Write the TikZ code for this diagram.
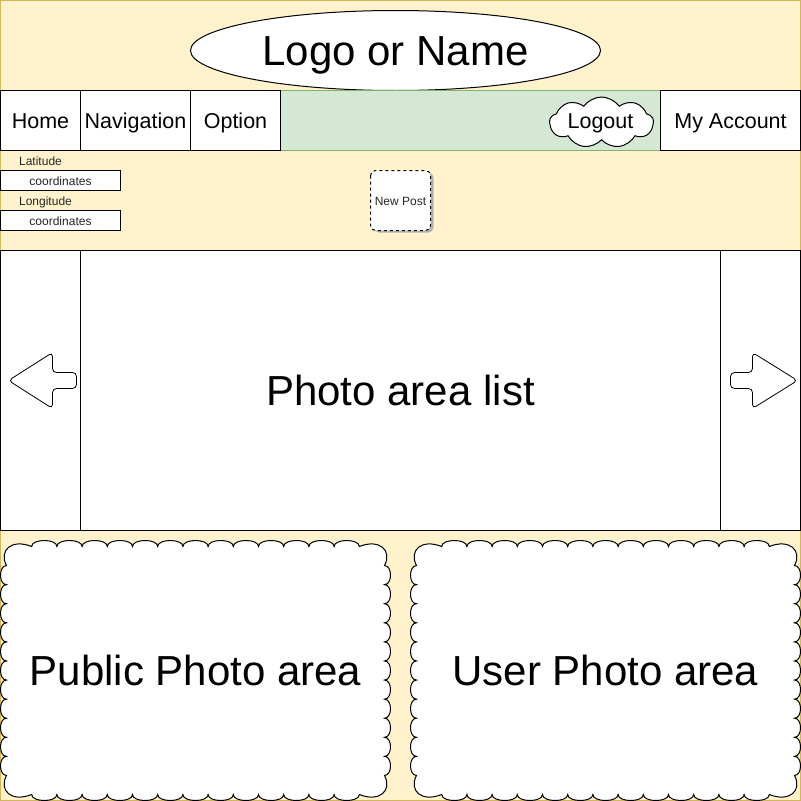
\documentclass[tikz,border=0pt]{standalone}
\usepackage{fontspec}
\setmainfont{Liberation Sans}
\usetikzlibrary{shapes.geometric,shapes.symbols}
\definecolor{bgfill}{HTML}{FFF2CC}
\definecolor{bgline}{HTML}{D6B656}
\definecolor{barfill}{HTML}{D5E8D4}
\definecolor{barline}{HTML}{82B366}

% box with scalloped edges: x0, y0, x1, y1, bumps across, bumps down
\newcommand{\scallopbox}[6]{%
  \pgfmathsetmacro\sxA{#1+6}\pgfmathsetmacro\sxB{#3-6}%
  \pgfmathsetmacro\syA{#2+6}\pgfmathsetmacro\syB{#4-6}%
  \pgfmathsetmacro\sdx{(\sxB-\sxA)/#5}\pgfmathsetmacro\sdy{(\syB-\syA)/#6}%
  \pgfmathtruncatemacro\snx{#5-2}\pgfmathtruncatemacro\sny{#6-2}%
  \pgfmathtruncatemacro\snxb{#5-1}\pgfmathtruncatemacro\snyb{#6-1}%
  \draw[fill=white] ({\sxA+\sdx},\syA)
    \foreach \k in {1,...,\snx}{
      .. controls ({\sxA+\k*\sdx},\syA-8) and ({\sxA+(\k+1)*\sdx},\syA-8) .. ({\sxA+(\k+1)*\sdx},\syA)}
    .. controls ({\sxB-0.2*\sdx},\syA-8) and (\sxB+8,{\syA+0.2*\sdy}) .. (\sxB,{\syA+\sdy})
    \foreach \k in {1,...,\sny}{
      .. controls (\sxB+8,{\syA+\k*\sdy}) and (\sxB+8,{\syA+(\k+1)*\sdy}) .. (\sxB,{\syA+(\k+1)*\sdy})}
    .. controls (\sxB+8,{\syB-0.2*\sdy}) and ({\sxB-0.2*\sdx},\syB+8) .. ({\sxB-\sdx},\syB)
    \foreach \k in {\snxb,...,2}{
      .. controls ({\sxA+\k*\sdx},\syB+8) and ({\sxA+(\k-1)*\sdx},\syB+8) .. ({\sxA+(\k-1)*\sdx},\syB)}
    .. controls ({\sxA+0.2*\sdx},\syB+8) and (\sxA-8,{\syB-0.2*\sdy}) .. (\sxA,{\syB-\sdy})
    \foreach \k in {\snyb,...,2}{
      .. controls (\sxA-8,{\syA+\k*\sdy}) and (\sxA-8,{\syA+(\k-1)*\sdy}) .. (\sxA,{\syA+(\k-1)*\sdy})}
    .. controls (\sxA-8,{\syA+0.2*\sdy}) and ({\sxA+0.2*\sdx},\syA-8) .. ({\sxA+\sdx},\syA) -- cycle;%
}

\begin{document}
\begin{tikzpicture}[x=1pt,y=-1pt,line width=1pt,
  big/.style={font=\fontsize{42}{48}\selectfont,anchor=base,inner sep=0},
  mid/.style={font=\fontsize{21.5}{26}\selectfont,anchor=base,inner sep=0},
  small/.style={font=\fontsize{12}{14}\selectfont,text=black!85,anchor=base,inner sep=0}]
\useasboundingbox (-0.5,-0.5) rectangle (800.5,800.5);
\draw[fill=bgfill,draw=bgline] (0,0) rectangle (800,800);

% header
\node[ellipse,draw,fill=white,minimum width=410,minimum height=80,inner sep=0] (logoshape) at (395,50) {};
\node[big] (logo) at (395,65) {Logo or Name};

% menu bar
\draw[fill=barfill,draw=barline] (280,90) rectangle (660,150);
\draw[fill=white] (0,90) rectangle (80,150);
\draw[fill=white] (80,90) rectangle (190,150);
\draw[fill=white] (190,90) rectangle (280,150);
\draw[fill=white] (660,90) rectangle (800,150);
\node[mid] (home) at (40,127.5) {Home};
\node[mid] (navigation) at (135,127.5) {Navigation};
\node[mid] (option) at (235,127.5) {Option};
\node[cloud,draw,fill=white,cloud puffs=9,cloud puff arc=110,minimum width=104,minimum height=51,inner sep=0] (logoutcloud) at (601,122) {};
\node[mid] (logout) at (600,127.5) {Logout};
\node[mid] (account) at (730,127.5) {My Account};

% location fields
\node[small] (latitude) at (40,165) {Latitude};
\draw[fill=white] (0,170) rectangle (120,190);
\node[small] (latcoord) at (60,185) {coordinates};
\node[small] (longitude) at (45,205) {Longitude};
\draw[fill=white] (0,210) rectangle (120,230);
\node[small] (longcoord) at (60,225) {coordinates};

% new post button
\fill[black!30,rounded corners=5] (373,172) rectangle (433,232);
\draw[fill=white,dashed,rounded corners=5] (370,170) rectangle (430,230);
\node[small] (newpost) at (400,205) {New Post};

% photo list
\draw[fill=white] (0,250) rectangle (80,530);
\draw[fill=white] (80,250) rectangle (720,530);
\draw[fill=white] (720,250) rectangle (800,530);
\node[big] (photolist) at (400,405) {Photo area list};
\draw[line width=0.8pt,rounded corners=4] (8,380) -- (52,352) -- (52,372) -- (76,372) -- (76,388) -- (52,388) -- (52,408) -- cycle;
\draw[line width=0.8pt,rounded corners=4] (797,380) -- (752,352) -- (752,372) -- (730,372) -- (730,388) -- (752,388) -- (752,408) -- cycle;

% photo areas
\scallopbox{0}{540}{390}{800}{15}{13}
\scallopbox{410}{540}{800}{800}{15}{13}
\node[big] (publicarea) at (195,685) {Public Photo area};
\node[big] (userarea) at (605,685) {User Photo area};
\end{tikzpicture}
\end{document}
